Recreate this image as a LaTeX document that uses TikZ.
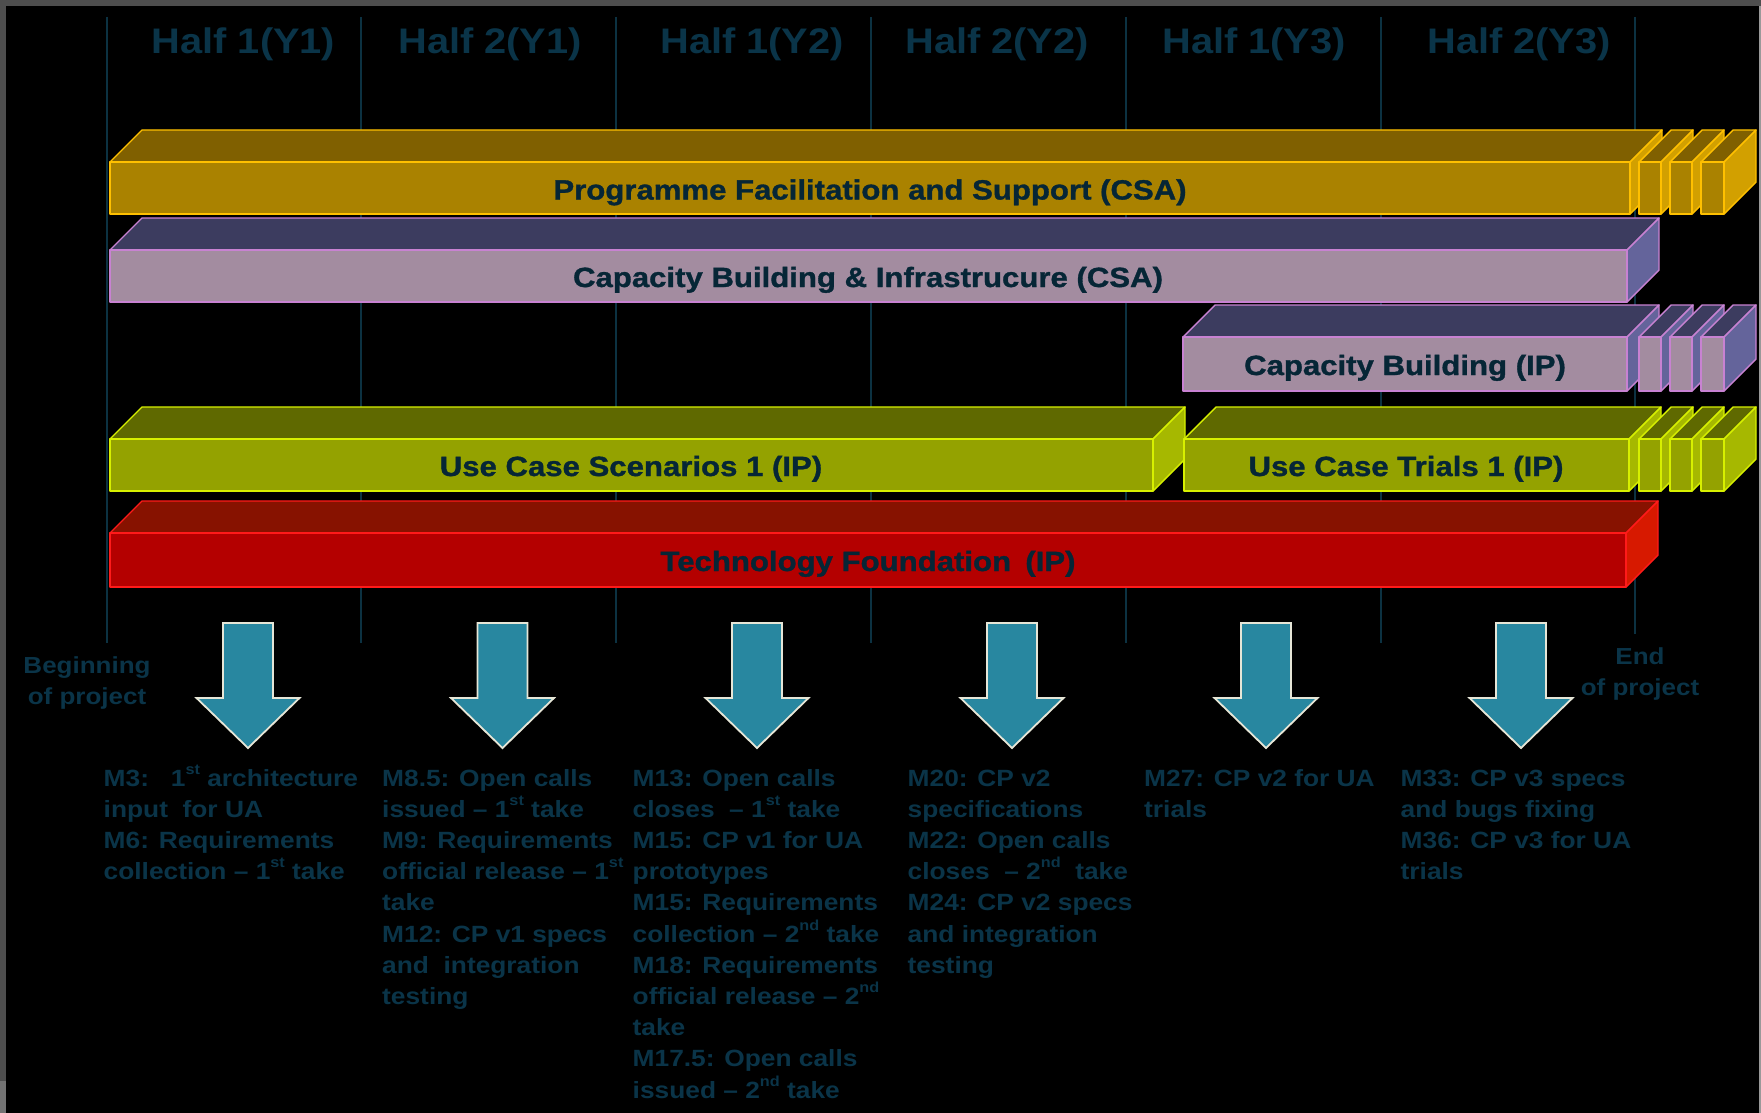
\documentclass[tikz,border=0pt]{standalone}
\usepackage{fontspec}
\setmainfont{Liberation Sans}[FakeStretch=1.12]
\definecolor{txt}{RGB}{10,52,72}
\definecolor{lbl}{RGB}{6,38,54}
\definecolor{vline}{RGB}{12,50,66}
\definecolor{framecol}{RGB}{78,78,78}
\definecolor{arrowfill}{RGB}{40,135,160}
\definecolor{arrowline}{RGB}{230,230,215}
\definecolor{pfFront}{HTML}{AA8200}\definecolor{pfTop}{HTML}{806000}\definecolor{pfSide}{HTML}{D2A000}\definecolor{pfLine}{HTML}{FFC000}
\definecolor{caFront}{HTML}{A38CA0}\definecolor{caTop}{HTML}{3C3C5F}\definecolor{caSide}{HTML}{64649B}\definecolor{caLine}{HTML}{C882D2}
\definecolor{ucFront}{HTML}{94A200}\definecolor{ucTop}{HTML}{5F6900}\definecolor{ucSide}{HTML}{A6B800}\definecolor{ucLine}{HTML}{D7F000}
\definecolor{tfFront}{HTML}{B40000}\definecolor{tfTop}{HTML}{871200}\definecolor{tfSide}{HTML}{D71900}\definecolor{tfLine}{HTML}{FF1A1A}
% #1 x1, #2 x2, #3 ytop, #4 ybottom, #5 colour prefix
\newcommand{\prismbox}[5]{%
  \filldraw[fill=#5Top,draw=#5Line,line width=1.4pt,line join=round]
    (#1,#3) -- (#1+32,#3-32) -- (#2+32,#3-32) -- (#2,#3) -- cycle;
  \filldraw[fill=#5Side,draw=#5Line,line width=1.4pt,line join=round]
    (#2,#3) -- (#2+32,#3-32) -- (#2+32,#4-32) -- (#2,#4) -- cycle;
  \filldraw[fill=#5Front,draw=#5Line,line width=1.4pt,line join=round]
    (#1,#3) rectangle (#2,#4);}
\newcommand{\prismtail}[3]{%
  \prismbox{1639}{1661}{#1}{#2}{#3}\prismbox{1670}{1692}{#1}{#2}{#3}\prismbox{1701}{1724}{#1}{#2}{#3}}
\newcommand{\milearrow}[1]{%
  \filldraw[fill=arrowfill,draw=arrowline,line width=1.8pt,line join=miter]
    (#1-25,623) -- (#1+25,623) -- (#1+25,698) -- (#1+51.5,698) -- (#1,748)
    -- (#1-51.5,698) -- (#1-25,698) -- cycle;}
\newcommand{\supx}[1]{\raisebox{0.5em}{\fontsize{14.5}{14.5}\selectfont #1}}
\begin{document}
\begin{tikzpicture}[x=1pt,y=-1pt,
  hdr/.style={anchor=base,inner sep=0,text=txt,font=\bfseries\fontsize{35.5}{40}\selectfont},
  barlbl/.style={anchor=base,inner sep=0,text=lbl,font=\bfseries\fontsize{27.8}{32}\selectfont\addfontfeature{FakeBold=1.2}},
  ms/.style={anchor=base west,align=left,inner sep=0,text=txt,font=\bfseries\fontsize{23.5}{31.2}\selectfont},
  edge/.style={anchor=base,align=center,inner sep=0,text=txt,font=\bfseries\fontsize{23.2}{30.8}\selectfont},
  vl/.style={draw=vline,line width=2pt}]
\useasboundingbox (0,0) rectangle (1761,1113);
% frame and background
\fill[framecol] (0,0) rectangle (1761,1113);
\fill[black] (5.5,6) rectangle (1758.5,1113);
\fill[black!40] (1758.5,6) rectangle (1761,1113);
\fill[black!55] (0,1081) rectangle (5.5,1113);
% vertical grid lines
\foreach \k in {0,...,5}{\draw[vl] (106.5+254.8*\k,17) -- (106.5+254.8*\k,643);}
\draw[vl] (1635.3,17) -- (1635.3,634);
% headers
\node[hdr] (h1) at (243.5,53.5) {Half 1(Y1)};
\node[hdr] (h2) at (490,53.5) {Half 2(Y1)};
\node[hdr] (h3) at (752,53.5) {Half 1(Y2)};
\node[hdr] (h4) at (997,53.5) {Half 2(Y2)};
\node[hdr] (h5) at (1254,53.5) {Half 1(Y3)};
\node[hdr] (h6) at (1519,53.5) {Half 2(Y3)};
% bars
\prismbox{110}{1630}{162}{214}{pf}\prismtail{162}{214}{pf}
\node[barlbl] (pf) at (870,199.5) {Programme Facilitation and Support (CSA)};
\prismbox{110}{1627}{250}{302}{ca}
\node[barlbl] (ca) at (868,287) {Capacity Building \& Infrastrucure (CSA)};
\prismbox{1183}{1627}{337}{391}{ca}\prismtail{337}{391}{ca}
\node[barlbl] (cb) at (1405,375) {Capacity Building (IP)};
\prismbox{110}{1153}{439}{491}{uc}
\node[barlbl] (ucs) at (631,476) {Use Case Scenarios 1 (IP)};
\prismbox{1184}{1629}{439}{491}{uc}\prismtail{439}{491}{uc}
\node[barlbl] (uct) at (1406,476) {Use Case Trials 1 (IP)};
\prismbox{110}{1626}{533}{587}{tf}
\node[barlbl] (tf) at (868,571) {Technology Foundation\hspace{0.2em} (IP)};
% milestone arrows
\foreach \c in {248,502.5,757,1012,1266,1521}{\milearrow{\c}}
% begin / end labels (base = last line baseline)
\node[edge] (begin) at (87,704) {Beginning\\of project};
\node[edge] (end) at (1640,695) {End\\of project};
% milestone texts (base = last line baseline; first baseline at 786)
\node[ms] (m1) at (103.5,879.6) {M3:\ \ \ 1\supx{st} architecture\\input\ \ for UA\\M6: Requirements\\collection -- 1\supx{st} take};
\node[ms] (m2) at (382,1004.4) {M8.5: Open calls\\issued -- 1\supx{st} take\\M9: Requirements\\official release -- 1\supx{st}\\take\\M12: CP v1 specs\\and\ \ integration\\testing};
\node[ms] (m3) at (632.5,1098) {M13: Open calls\\closes\ \ -- 1\supx{st} take\\M15: CP v1 for UA\\prototypes\\M15: Requirements\\collection -- 2\supx{nd} take\\M18: Requirements\\official release -- 2\supx{nd}\\take\\M17.5: Open calls\\issued -- 2\supx{nd} take};
\node[ms] (m4) at (907.5,973.2) {M20: CP v2\\specifications\\M22: Open calls\\closes\ \ -- 2\supx{nd}\ \ take\\M24: CP v2 specs\\and integration\\testing};
\node[ms] (m5) at (1144,817.2) {M27: CP v2 for UA\\trials};
\node[ms] (m6) at (1400.5,879.6) {M33: CP v3 specs\\and bugs fixing\\M36: CP v3 for UA\\trials};
\end{tikzpicture}
\end{document}
